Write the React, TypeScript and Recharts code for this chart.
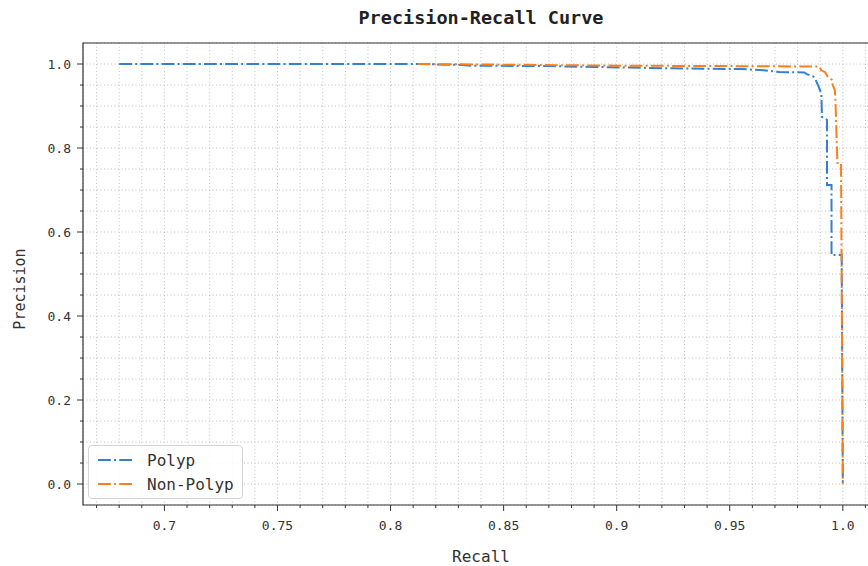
import React from 'react';
import { LineChart, Line, XAxis, YAxis, CartesianGrid, ReferenceArea, Legend } from 'recharts';

const polypRecall = [0.68, 0.812, 0.83, 0.836, 0.87, 0.89, 0.92, 0.955, 0.965, 0.972, 0.983, 0.984, 0.987, 0.988, 0.989, 0.9905, 0.9908, 0.993, 0.993, 0.995, 0.995, 0.9995, 1.0];
const polypPrecision = [1.0, 1.0, 0.998, 0.996, 0.995, 0.993, 0.99, 0.988, 0.985, 0.981, 0.98, 0.976, 0.97, 0.962, 0.95, 0.93, 0.874, 0.867, 0.712, 0.712, 0.545, 0.545, 0.0];

const nonPolypRecall = [0.812, 0.86, 0.9, 0.95, 0.9895, 0.9905, 0.9921, 0.9934, 0.9952, 0.9955, 0.9965, 0.9968, 0.9976, 0.9992, 1.0];
const nonPolypPrecision = [1.0, 0.998, 0.996, 0.995, 0.994, 0.985, 0.981, 0.969, 0.962, 0.95, 0.938, 0.902, 0.764, 0.764, 0.0];

const xTicks = [0.67, 0.68, 0.69, 0.7, 0.71, 0.72, 0.73, 0.74, 0.75, 0.76, 0.77, 0.78, 0.79, 0.8, 0.81, 0.82, 0.83, 0.84, 0.85, 0.86, 0.87, 0.88, 0.89, 0.9, 0.91, 0.92, 0.93, 0.94, 0.95, 0.96, 0.97, 0.98, 0.99, 1.0, 1.01];
const yTicks = [0, 0.05, 0.1, 0.15, 0.2, 0.25, 0.3, 0.35, 0.4, 0.45, 0.5, 0.55, 0.6, 0.65, 0.7, 0.75, 0.8, 0.85, 0.9, 0.95, 1.0];

const seriesNames = ['Polyp', 'Non-Polyp'];
const BLUE = '#3480d0';
const ORANGE = '#fb7f1c';
const FONT = '"DejaVu Sans Mono", "Liberation Mono", monospace';
const DASH = '12.8 3.2 2 3.2';

const polypData = polypRecall.map((r, i) => ({ recall: r, precision: polypPrecision[i] }));
const nonPolypData = nonPolypRecall.map((r, i) => ({ recall: r, precision: nonPolypPrecision[i] }));

const fmtX = (v: number) => (v === 1 ? '1.0' : String(v));

const XTick = (props: any) => {
  const { x, y, payload } = props;
  const v = payload.value as number;
  const major = Math.round(v * 100) % 5 === 0;
  return (
    <g>
      <line x1={x} x2={x} y1={y} y2={y + (major ? 6 : 3)} stroke="#333" strokeWidth={1} />
      {major && (
        <text x={x} y={y + 25} textAnchor="middle" fontSize={13} fill="#333" fontFamily={FONT}>
          {fmtX(v)}
        </text>
      )}
    </g>
  );
};

const YTick = (props: any) => {
  const { x, y, payload } = props;
  const v = payload.value as number;
  const major = Math.round(v * 100) % 20 === 0;
  return (
    <g>
      <line x1={x - (major ? 6 : 3)} x2={x} y1={y} y2={y} stroke="#333" strokeWidth={1} />
      {major && (
        <text x={x - 12} y={y + 4.5} textAnchor="end" fontSize={13} fill="#333" fontFamily={FONT}>
          {v.toFixed(1)}
        </text>
      )}
    </g>
  );
};

const LegendBox = () => (
  <div
    style={{
      width: 155,
      height: 54,
      background: 'rgba(255,255,255,0.85)',
      border: '1px solid #d6d6d6',
      borderRadius: 4,
      boxSizing: 'border-box',
      fontFamily: FONT,
    }}
  >
    <svg width={155} height={54} style={{ display: 'block' }}>
      <line x1={9} x2={44} y1={14} y2={14} stroke={BLUE} strokeWidth={2} strokeDasharray={DASH} />
      <text x={58} y={20} fontSize={16} fill="#333" fontFamily={FONT}>{seriesNames[0]}</text>
      <line x1={9} x2={44} y1={38} y2={38} stroke={ORANGE} strokeWidth={2} strokeDasharray={DASH} />
      <text x={58} y={44} fontSize={16} fill="#333" fontFamily={FONT}>{seriesNames[1]}</text>
    </svg>
  </div>
);

export default function App() {
  return (
    <div style={{ position: 'absolute', left: 0, top: 0, width: 868, height: 566, overflow: 'hidden', background: '#fff', fontFamily: FONT }}>
      <div
        style={{
          position: 'absolute',
          left: 281,
          width: 400,
          top: 7,
          textAlign: 'center',
          fontSize: 18.5,
          fontWeight: 'bold',
          color: '#222',
          fontFamily: FONT,
          lineHeight: '22px',
        }}
      >
        Precision-Recall Curve
      </div>
      <LineChart width={890} height={566} margin={{ top: 43, right: 11, left: 0, bottom: 0 }}>
        <CartesianGrid stroke="#c0c0c0" strokeDasharray="1 2.5" strokeWidth={1} />
        <XAxis
          dataKey="recall"
          type="number"
          domain={[0.664, 1.016]}
          ticks={xTicks}
          interval={0}
          allowDataOverflow
          tick={<XTick />}
          tickLine={false}
          axisLine={false}
          tickSize={0}
          tickMargin={0}
          height={61}
          label={{ value: 'Recall', position: 'insideBottom', offset: 4, fontSize: 16, fill: '#333', fontFamily: FONT }}
        />
        <YAxis
          type="number"
          domain={[-0.05, 1.05]}
          ticks={yTicks}
          interval={0}
          allowDataOverflow
          tick={<YTick />}
          tickLine={false}
          axisLine={false}
          tickSize={0}
          tickMargin={0}
          width={83}
        />
        <ReferenceArea x1={0.664} x2={1.016} y1={-0.05} y2={1.05} fill="none" fillOpacity={0} stroke="#333" strokeWidth={1.2} />
        <Line
          data={polypData}
          dataKey="precision"
          name={seriesNames[0]}
          type="linear"
          stroke={BLUE}
          strokeWidth={2}
          strokeDasharray={DASH}
          dot={false}
          activeDot={false}
          isAnimationActive={false}
        />
        <Line
          data={nonPolypData}
          dataKey="precision"
          name={seriesNames[1]}
          type="linear"
          stroke={ORANGE}
          strokeWidth={2}
          strokeDasharray={DASH}
          dot={false}
          activeDot={false}
          isAnimationActive={false}
        />
        <Legend
          layout="horizontal"
          verticalAlign="middle"
          align="center"
          content={<LegendBox />}
          wrapperStyle={{ left: 88, top: 445, width: 155, height: 54 }}
        />
      </LineChart>
      <svg style={{ position: 'absolute', left: 0, top: 0, pointerEvents: 'none' }} width={40} height={566}>
        <text
          x={20}
          y={289}
          transform="rotate(-90 20 289)"
          textAnchor="middle"
          dominantBaseline="central"
          fontSize={15}
          fill="#333"
          fontFamily={FONT}
        >
          Precision
        </text>
      </svg>
    </div>
  );
}
